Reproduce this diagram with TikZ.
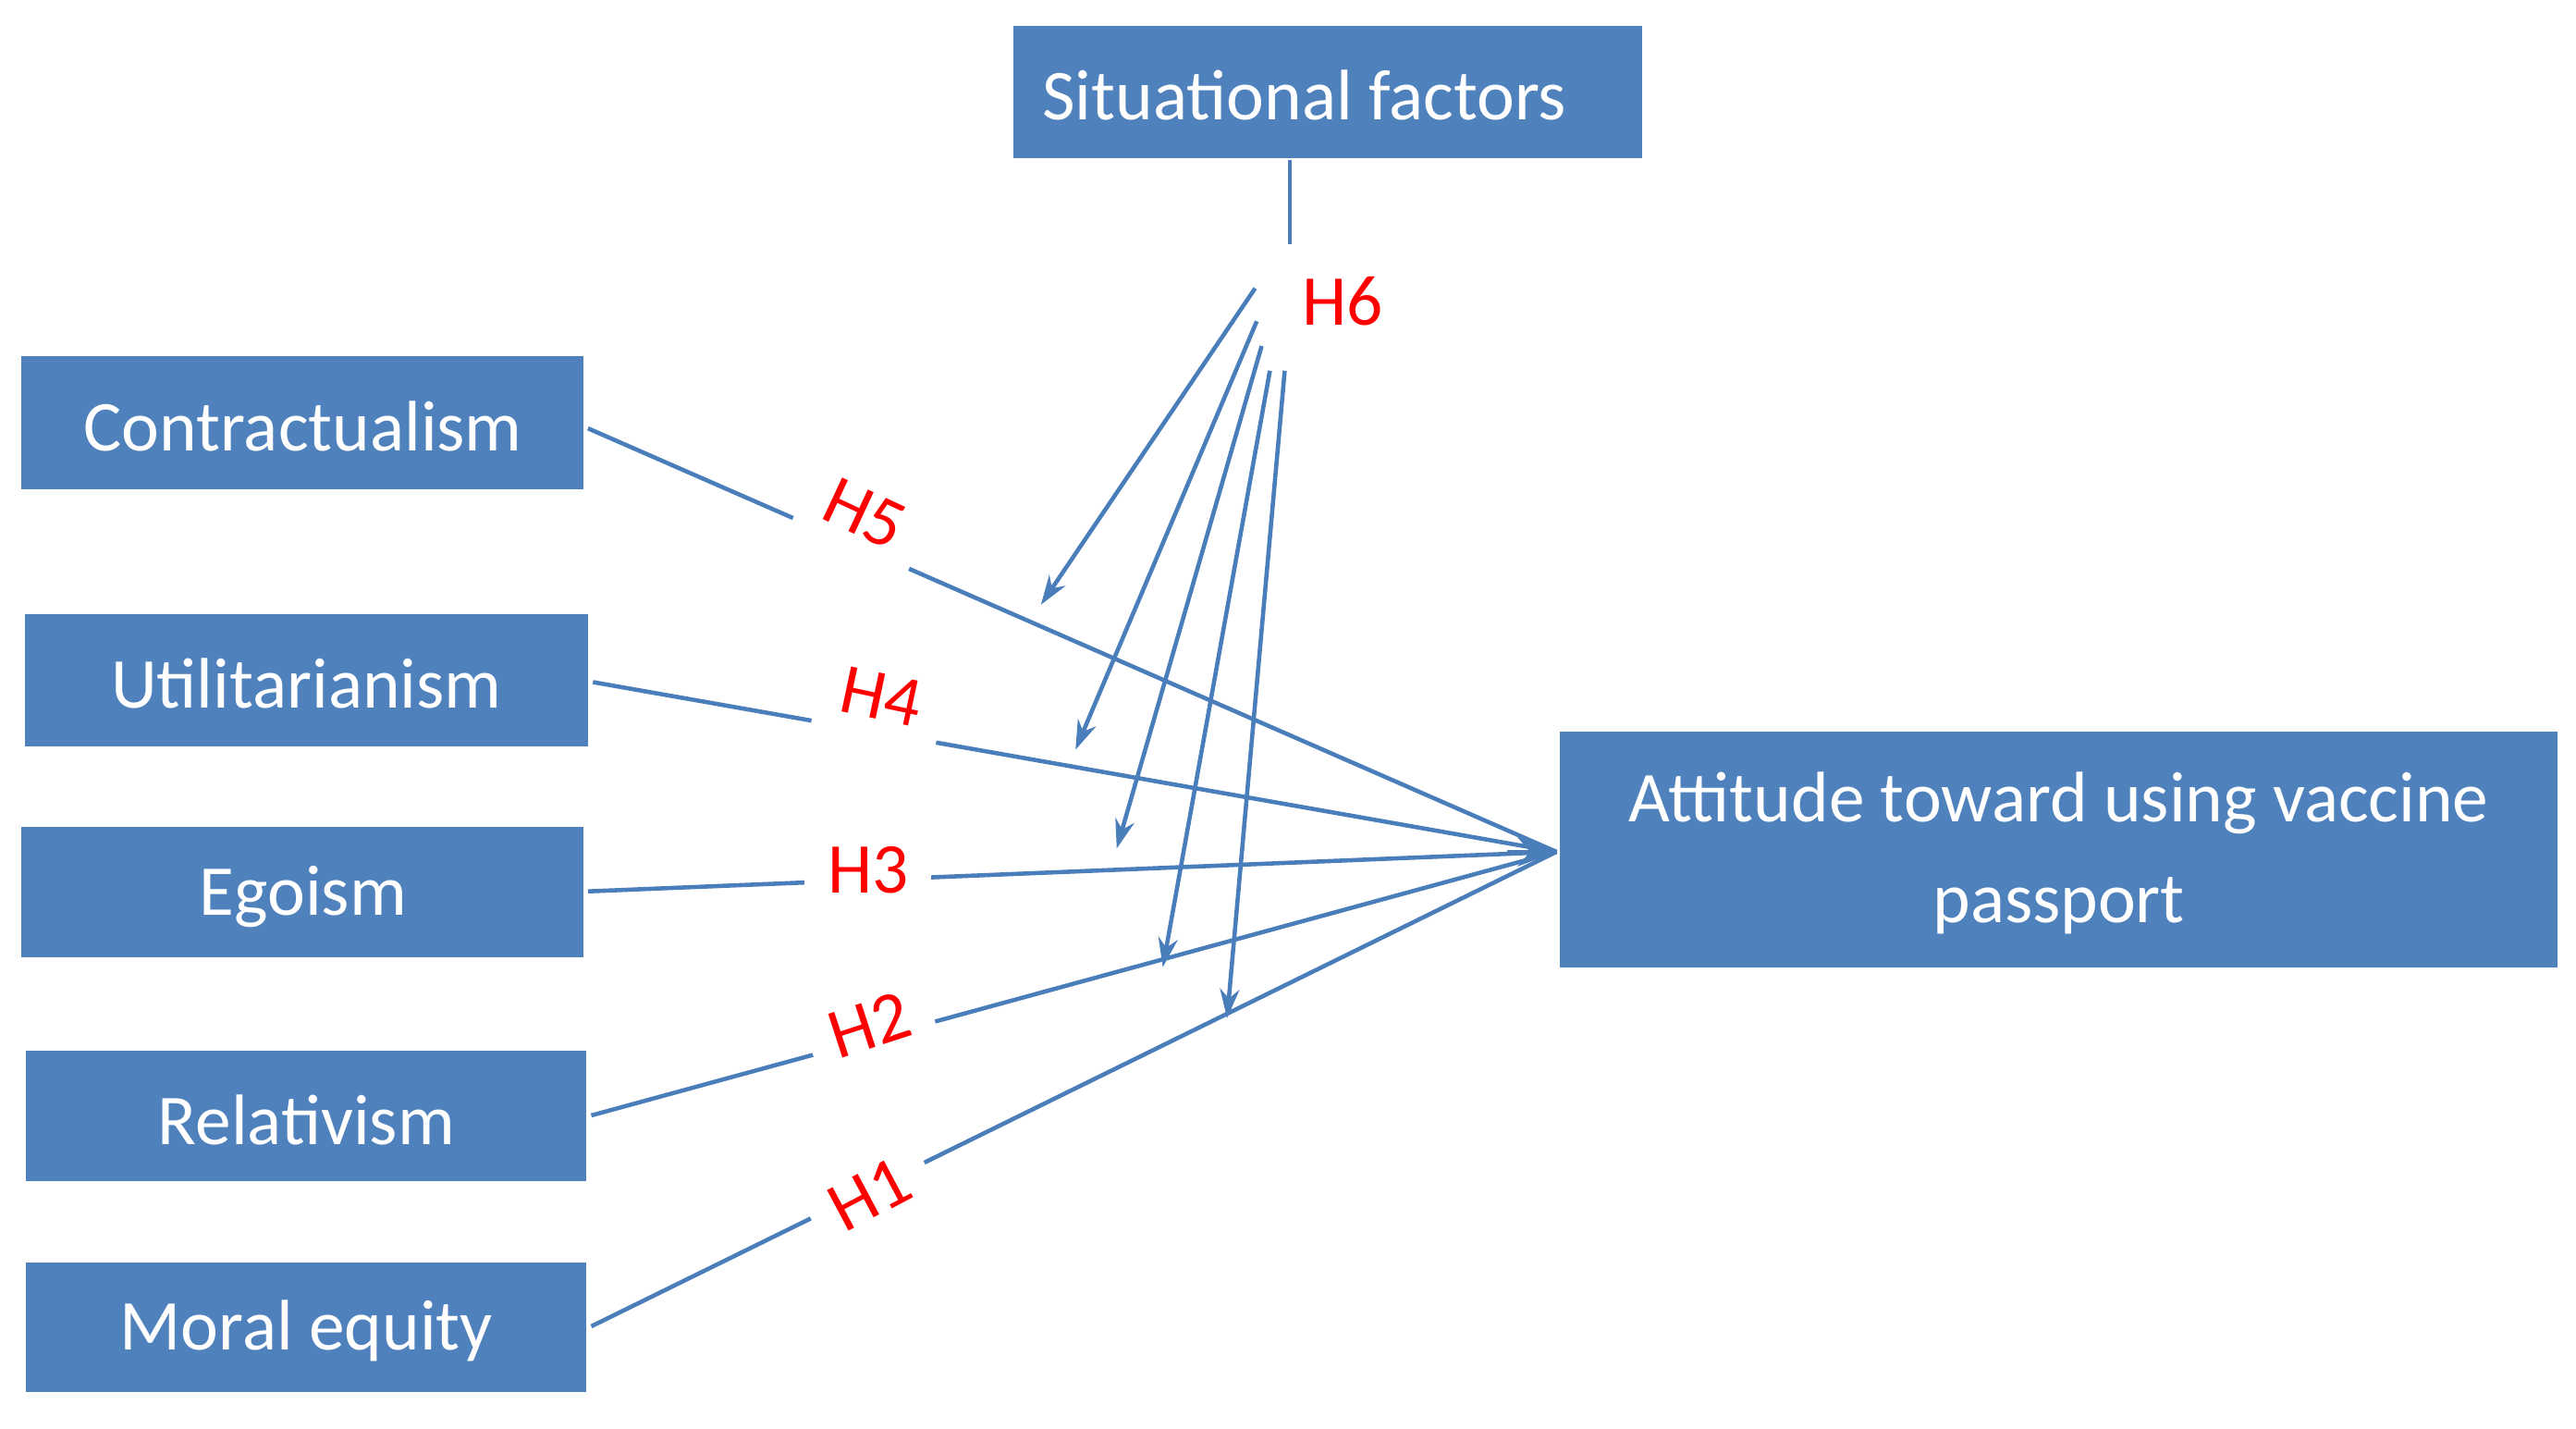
\documentclass[tikz,border=0pt]{standalone}
\usepackage{fontspec}
\setmainfont{Carlito}
\usetikzlibrary{arrows.meta}
\definecolor{bx}{HTML}{4F81BD}
\definecolor{ln}{HTML}{4A7EBB}
\begin{document}
\begin{tikzpicture}[x=0.01781cm,y=-0.01781cm,
 bx/.style={fill=bx,draw=white,line width=1pt},
 tx/.style={text=white,font=\fontsize{22}{27}\selectfont},
 con/.style={draw=ln,line width=1.3pt},
 arr/.style={con,-{Stealth[length=9pt,width=6pt]}},
 hl/.style={text=red,font=\fontsize{22}{26}\selectfont,fill=white,inner sep=7pt}]
\useasboundingbox (0,0) rectangle (1564,867);
\path[bx] (614,15) rectangle (998,97);
\node[tx] (sft) at (792,58) {Situational factors};
\path[bx] (12,215) rectangle (355,298);
\node[tx] (c) at (184,259) {Contractualism};
\path[bx] (14,372) rectangle (358,454);
\node[tx] (u) at (186,415) {Utilitarianism};
\path[bx] (12,501) rectangle (355,582);
\node[tx] (e) at (184,544) {Egoism};
\path[bx] (15,637) rectangle (357,718);
\node[tx] (r) at (186,680) {Relativism};
\path[bx] (15,765) rectangle (357,846);
\node[tx] (m) at (186,808) {Moral equity};
\path[bx] (946,443) rectangle (1554,588);
\node[tx,align=center] (a) at (1250,518) {Attitude toward using vaccine\\[4pt]passport};
\coordinate (t) at (945,517);
\coordinate (t0) at (915,517);
\coordinate (c0) at (357,260); \coordinate (u0) at (360,414); \coordinate (e0) at (357,541);
\coordinate (r0) at (359,677); \coordinate (m0) at (359,805);
\draw[con] (c0) -- (t); \draw[con] (u0) -- (t); \draw[con] (e0) -- (t);
\draw[con] (r0) -- (t); \draw[con] (m0) -- (t);
\draw[con,-{Stealth[length=12pt,width=9pt]}] (t0) -- (t);
\node[hl,rotate=-25] (h5) at (525,312) {H5};
\node[hl,rotate=-12] (h4) at (535,423) {H4};
\node[hl] (h3) at (527,528) {H3};
\node[hl,rotate=18] (h2) at (528,622) {H2};
\node[hl,rotate=28] (h1) at (528,725) {H1};
\coordinate (v0) at (783,97); \coordinate (v1) at (783,148);
\draw[con] (v0) -- (v1);
\node[text=red,font=\fontsize{22}{26}\selectfont] (h6) at (815,183) {H6};
\coordinate (s1) at (762,175); \coordinate (s2) at (763,195); \coordinate (s3) at (766,210);
\coordinate (s4) at (771,225); \coordinate (s5) at (780,225);
\coordinate (e1) at (632,367); \coordinate (e2) at (653,455); \coordinate (e3) at (678,515);
\coordinate (e4) at (706,587); \coordinate (e5) at (745,618);
\draw[arr] (s1) -- (e1); \draw[arr] (s2) -- (e2); \draw[arr] (s3) -- (e3);
\draw[arr] (s4) -- (e4); \draw[arr] (s5) -- (e5);
\end{tikzpicture}
\end{document}
